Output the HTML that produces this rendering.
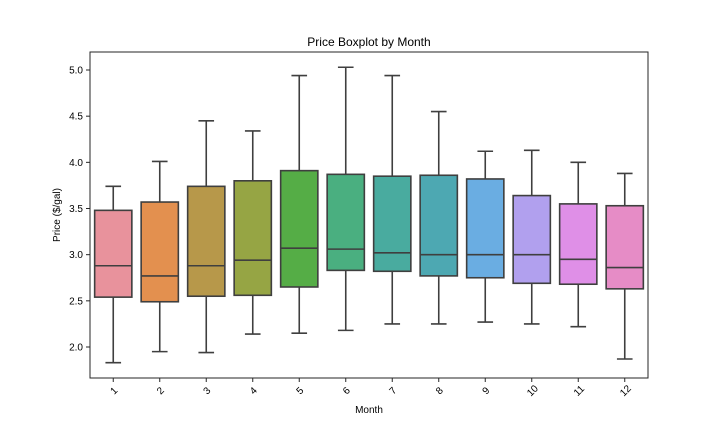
<!DOCTYPE html>
<html><head><meta charset="utf-8"><style>
html,body{margin:0;padding:0;background:#fff;}
svg{display:block;font-family:"Liberation Sans","DejaVu Sans",sans-serif;}
</style></head><body>
<svg id="chart" width="720" height="432" viewBox="0 0 720 432">
<text x="369" y="46" text-anchor="middle" font-size="12">Price Boxplot by Month</text>
<g id="yaxis"></g>
<g id="xaxis"></g>
<g id="boxes"></g>
<rect x="90" y="52" width="558" height="326" fill="none" stroke="#262626" stroke-width="1"/>
<text x="369" y="413" text-anchor="middle" font-size="10">Month</text>
<text transform="translate(60,215) rotate(-90)" text-anchor="middle" font-size="10">Price ($/gal)</text>
</svg>
<script>
const months = ["1","2","3","4","5","6","7","8","9","10","11","12"];
const whiskerLow = [1.83,1.95,1.94,2.14,2.15,2.18,2.25,2.25,2.27,2.25,2.22,1.87];
const q1Values = [2.54,2.49,2.55,2.56,2.65,2.83,2.82,2.77,2.75,2.69,2.68,2.63];
const medians = [2.88,2.77,2.88,2.94,3.07,3.06,3.02,3.00,3.00,3.00,2.95,2.86];
const q3Values = [3.48,3.57,3.74,3.80,3.91,3.87,3.85,3.86,3.82,3.64,3.55,3.53];
const whiskerHigh = [3.74,4.01,4.45,4.34,4.94,5.03,4.94,4.55,4.12,4.13,4.00,3.88];
const yTicks = [2.0,2.5,3.0,3.5,4.0,4.5,5.0];
const colors = ["#e8929c","#e3904f","#b7984a","#96a544","#55ad46","#4aaf80","#49ab9f","#4da8b2","#6aade2","#b1a0ee","#df8fe7","#e68cc6"];

const NS="http://www.w3.org/2000/svg";
const pLeft=90,pRight=648,pTop=52,pBottom=378;
const yScale=v=>347-(v-2)*92.33;
const band=(pRight-pLeft)/months.length;
const xScale=i=>pLeft+band*(i+0.5);
function mk(tag,attrs,parent){const e=document.createElementNS(NS,tag);for(const k in attrs)e.setAttribute(k,attrs[k]);parent.appendChild(e);return e;}
const ya=document.getElementById('yaxis'),xa=document.getElementById('xaxis'),bx=document.getElementById('boxes');
yTicks.forEach(t=>{
  const l=mk('line',{x1:pLeft-4,x2:pLeft,y1:yScale(t),y2:yScale(t),stroke:'#262626'},ya);
  
  
  const tx=mk('text',{x:pLeft-7,y:yScale(t)+3.5,'text-anchor':'end','font-size':'10'},ya);
  tx.textContent=t.toFixed(1);
  
  
});
months.forEach((m,i)=>{
  const cx=xScale(i);
  const l=mk('line',{x1:cx,x2:cx,y1:pBottom,y2:pBottom+4,stroke:'#262626'},xa);
  
  
  const tx=mk('text',{transform:`translate(${cx+3},${pBottom+15}) rotate(-45)`,'text-anchor':'middle','font-size':'10'},xa);
  tx.textContent=m;
  
  
  const g=mk('g',{},bx);
  
  
  const bw=band*0.8, cw=bw*0.21;
  const st={stroke:'#3f3f3f','stroke-width':1.6};
  mk('line',Object.assign({x1:cx,x2:cx,y1:yScale(whiskerLow[i]),y2:yScale(q1Values[i])},st),g);
  mk('line',Object.assign({x1:cx,x2:cx,y1:yScale(q3Values[i]),y2:yScale(whiskerHigh[i])},st),g);
  mk('line',Object.assign({x1:cx-cw,x2:cx+cw,y1:yScale(whiskerLow[i]),y2:yScale(whiskerLow[i])},st),g);
  mk('line',Object.assign({x1:cx-cw,x2:cx+cw,y1:yScale(whiskerHigh[i]),y2:yScale(whiskerHigh[i])},st),g);
  mk('rect',Object.assign({x:cx-bw/2,y:yScale(q3Values[i]),width:bw,height:yScale(q1Values[i])-yScale(q3Values[i]),fill:colors[i]},st),g);
  mk('line',Object.assign({x1:cx-bw/2,x2:cx+bw/2,y1:yScale(medians[i]),y2:yScale(medians[i])},st),g);
});
</script>
</body></html>
